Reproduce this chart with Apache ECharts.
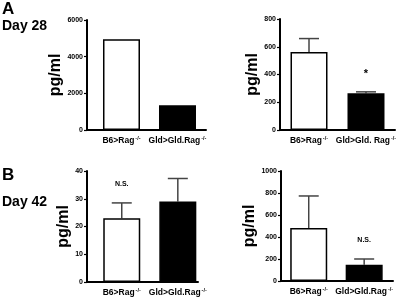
<!DOCTYPE html>
<html>
<head>
<meta charset="utf-8">
<script src="https://cdn.jsdelivr.net/npm/echarts@6/dist/echarts.min.js"></script>
<style>
  html, body { margin: 0; padding: 0; background: #fff; }
  #chart { width: 415px; height: 298px; }
</style>
</head>
<body>
<div id="chart"></div>
<script>
// groups on the x axis
var groupsA = ["B6>Rag", "Gld>Gld.Rag"];
var groupsA2 = ["B6>Rag", "Gld>Gld. Rag"];
var groupsB = ["B6>Rag", "Gld>Gld.Rag"];

// day 28, left panel (no error bars)
var day28LeftValues = [4950, 1350];
var day28LeftTicks = [0, 2000, 4000, 6000];

// day 28, right panel
var day28RightValues = [562, 265];
var day28RightErrors = [97, 10];
var day28RightMarks = ["", "*"];
var day28RightTicks = [0, 200, 400, 600, 800];

// day 42, left panel
var day42LeftValues = [23, 29];
var day42LeftErrors = [5.5, 8.3];
var day42LeftMarks = ["N.S.", ""];
var day42LeftTicks = [0, 10, 20, 30, 40];

// day 42, right panel
var day42RightValues = [482, 148];
var day42RightErrors = [291, 52];
var day42RightMarks = ["", "N.S."];
var day42RightTicks = [0, 200, 400, 600, 800, 1000];

var FONT = "Liberation Sans, Arial, sans-serif";
var barFills = ["#ffffff", "#000000"];

var chart = echarts.init(document.getElementById("chart"));

var grids = [], xAxes = [], yAxes = [], series = [];

function addPanel(box, xRange, groups, values, errors, marks, ticks) {
    var idx = grids.length;
    grids.push(box);
    xAxes.push({
        type: "value",
        gridIndex: idx,
        min: xRange[0],
        max: xRange[1],
        splitLine: { show: false },
        axisTick: { show: false },
        axisLine: { show: true, onZero: false, lineStyle: { color: "#000", width: 2 } },
        axisLabel: {
            customValues: [0, 1],
            margin: 5,
            color: "#000",
            fontFamily: FONT,
            fontSize: 8.5,
            fontWeight: "bold",
            formatter: function (v) {
                return groups[v] + "{sup|-/-}";
            },
            rich: {
                sup: { fontSize: 5.5, fontFamily: FONT, fontWeight: "bold", color: "#000", verticalAlign: "top", padding: [0, 0, 5, 1] }
            }
        }
    });
    yAxes.push({
        type: "value",
        gridIndex: idx,
        min: ticks[0],
        max: ticks[ticks.length - 1],
        interval: ticks[1] - ticks[0],
        name: "pg/ml",
        nameLocation: "middle",
        nameRotate: 90,
        nameGap: 12,
        nameTextStyle: { fontFamily: FONT, fontSize: 16, fontWeight: "bold", color: "#000" },
        splitLine: { show: false },
        axisLine: { show: true, onZero: false, lineStyle: { color: "#000", width: 2 } },
        axisTick: { show: true, length: 3, lineStyle: { color: "#000", width: 1.2 } },
        axisLabel: {
            margin: 4, color: "#000", fontFamily: FONT, fontSize: 7, fontWeight: "bold",
            formatter: function (v) { return String(v); }
        }
    });
    series.push({
        type: "bar",
        xAxisIndex: idx,
        yAxisIndex: idx,
        barWidth: 37,
        silent: true,
        data: values.map(function (v, i) {
            return {
                value: [i, v],
                itemStyle: { color: barFills[i], borderColor: "#000", borderWidth: 1.5 }
            };
        })
    });
    if (errors) {
        series.push({
            type: "custom",
            xAxisIndex: idx,
            yAxisIndex: idx,
            silent: true,
            z: 1,
            data: values.map(function (v, i) { return [i, v, errors[i]]; }),
            renderItem: function (params, api) {
                var i = api.value(0);
                var base = api.coord([i, api.value(1)]);
                var top = api.coord([i, api.value(1) + api.value(2)]);
                var kids = [
                    { type: "line", shape: { x1: base[0], y1: base[1], x2: top[0], y2: top[1] },
                      style: { stroke: "#444", lineWidth: 1.5 } },
                    { type: "line", shape: { x1: top[0] - 10, y1: top[1], x2: top[0] + 10, y2: top[1] },
                      style: { stroke: "#444", lineWidth: 1.5 } }
                ];
                var mark = marks[params.dataIndex];
                if (mark) {
                    kids.push({
                        type: "text",
                        style: {
                            text: mark,
                            x: top[0],
                            y: top[1] - (mark === "*" ? 18 : 19),
                            align: "center",
                            verticalAlign: "middle",
                            fontFamily: FONT,
                            fontWeight: "bold",
                            fontSize: mark === "*" ? 11 : 7,
                            fill: "#000"
                        }
                    });
                }
                return { type: "group", children: kids };
            }
        });
    }
}

addPanel({ left: 87, top: 20, width: 119, height: 110 }, [-0.616, 1.509],
    groupsA, day28LeftValues, null, null, day28LeftTicks);
addPanel({ left: 280, top: 19, width: 115, height: 111 }, [-0.509, 1.509],
    groupsA2, day28RightValues, day28RightErrors, day28RightMarks, day28RightTicks);
addPanel({ left: 87, top: 171, width: 111, height: 111 }, [-0.62, 1.36],
    groupsB, day42LeftValues, day42LeftErrors, day42LeftMarks, day42LeftTicks);
addPanel({ left: 281, top: 171, width: 112, height: 110 }, [-0.5, 1.52],
    groupsB, day42RightValues, day42RightErrors, day42RightMarks, day42RightTicks);

chart.setOption({
    animation: false,
    backgroundColor: "#fff",
    grid: grids,
    xAxis: xAxes,
    yAxis: yAxes,
    series: series,
    graphic: [
        { type: "text", left: 2, top: 1, style: { text: "A", fontFamily: FONT, fontSize: 17, fontWeight: "bold", fill: "#000" } },
        { type: "text", left: 2, top: 19, style: { text: "Day 28", fontFamily: FONT, fontSize: 14, fontWeight: "bold", fill: "#000" } },
        { type: "text", left: 2, top: 167, style: { text: "B", fontFamily: FONT, fontSize: 17, fontWeight: "bold", fill: "#000" } },
        { type: "text", left: 2, top: 195, style: { text: "Day 42", fontFamily: FONT, fontSize: 14, fontWeight: "bold", fill: "#000" } }
    ]
});
</script>
</body>
</html>
